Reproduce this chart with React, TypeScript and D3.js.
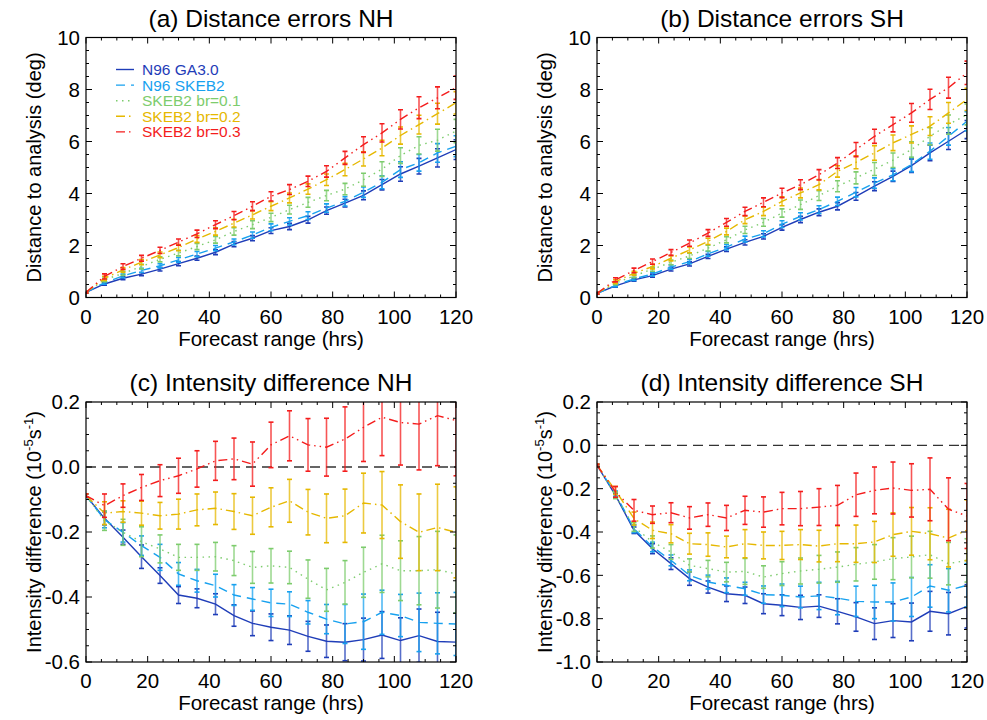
import React from 'react';
import * as d3 from 'd3';

// forecast range (hrs)
const HOURS = [0, 6, 12, 18, 24, 30, 36, 42, 48, 54, 60, 66, 72, 78, 84, 90, 96, 102, 108, 114, 120];
const SERIES = ['N96 GA3.0', 'N96 SKEB2', 'SKEB2 br=0.1', 'SKEB2 br=0.2', 'SKEB2 br=0.3'];
const COLORS = ['#1f3db8', '#17a1ef', '#7dcc6d', '#e6b800', '#f41c1c'];
const DASHES = ['none', '9,6', '1.5,4.5', '9,4,1.5,4', '9,4,1.5,4,1.5,4'];

// (a) distance errors NH
const aGA = [0.2, 0.52, 0.74, 0.9, 1.09, 1.3, 1.51, 1.74, 2.05, 2.28, 2.57, 2.73, 2.99, 3.34, 3.63, 3.93, 4.34, 4.75, 5.05, 5.37, 5.69];
const aSK = [0.2, 0.57, 0.83, 1.04, 1.22, 1.45, 1.67, 1.9, 2.14, 2.4, 2.7, 2.93, 3.15, 3.44, 3.7, 4.05, 4.43, 4.92, 5.18, 5.56, 5.82];
const aB1 = [0.2, 0.68, 0.93, 1.19, 1.47, 1.71, 1.96, 2.22, 2.54, 2.8, 3.08, 3.38, 3.66, 3.92, 4.17, 4.53, 4.94, 5.46, 5.85, 6.05, 6.4];
const aB2 = [0.2, 0.74, 1.06, 1.36, 1.64, 1.92, 2.25, 2.54, 2.86, 3.18, 3.51, 3.83, 4.17, 4.53, 4.92, 5.33, 5.75, 6.23, 6.65, 7.07, 7.49];
const aB3 = [0.2, 0.81, 1.19, 1.51, 1.81, 2.13, 2.45, 2.8, 3.15, 3.51, 3.89, 4.15, 4.47, 4.85, 5.37, 5.88, 6.33, 6.85, 7.3, 7.68, 8.07];
const eaGA = [0.03, 0.05, 0.06, 0.06, 0.07, 0.08, 0.08, 0.09, 0.1, 0.1, 0.11, 0.12, 0.13, 0.14, 0.15, 0.17, 0.2, 0.28, 0.3, 0.35, 0.38];
const eaSK = [0.03, 0.06, 0.07, 0.08, 0.08, 0.09, 0.1, 0.1, 0.11, 0.12, 0.13, 0.14, 0.15, 0.16, 0.18, 0.2, 0.25, 0.3, 0.32, 0.36, 0.4];
const eaB1 = [0.03, 0.07, 0.08, 0.09, 0.1, 0.11, 0.12, 0.13, 0.14, 0.15, 0.16, 0.17, 0.19, 0.2, 0.22, 0.25, 0.28, 0.3, 0.33, 0.42, 0.45];
const eaB2 = [0.03, 0.08, 0.09, 0.1, 0.11, 0.12, 0.13, 0.14, 0.15, 0.16, 0.17, 0.19, 0.2, 0.22, 0.24, 0.27, 0.3, 0.33, 0.36, 0.4, 0.43];
const eaB3 = [0.03, 0.1, 0.11, 0.11, 0.12, 0.12, 0.14, 0.15, 0.16, 0.17, 0.18, 0.19, 0.2, 0.22, 0.25, 0.3, 0.35, 0.37, 0.42, 0.42, 0.45];

// (b) distance errors SH
const bGA = [0.16, 0.45, 0.68, 0.84, 1.09, 1.29, 1.58, 1.86, 2.12, 2.35, 2.7, 3.0, 3.28, 3.51, 3.89, 4.28, 4.66, 5.07, 5.56, 6.01, 6.46];
const bSK = [0.16, 0.47, 0.72, 0.9, 1.17, 1.38, 1.68, 1.94, 2.25, 2.45, 2.82, 3.12, 3.38, 3.7, 4.05, 4.4, 4.72, 5.11, 5.63, 6.2, 6.78];
const bB1 = [0.16, 0.55, 0.83, 1.09, 1.35, 1.6, 1.9, 2.22, 2.6, 2.89, 3.25, 3.57, 3.92, 4.28, 4.6, 4.94, 5.28, 5.69, 6.2, 6.65, 7.04];
const bB2 = [0.16, 0.61, 0.93, 1.19, 1.51, 1.83, 2.16, 2.54, 2.99, 3.31, 3.7, 4.02, 4.34, 4.85, 5.2, 5.56, 5.95, 6.27, 6.59, 7.1, 7.62];
const bB3 = [0.16, 0.68, 1.04, 1.38, 1.73, 2.09, 2.48, 2.89, 3.31, 3.66, 4.02, 4.34, 4.72, 5.17, 5.69, 6.2, 6.65, 7.1, 7.62, 8.07, 8.64];
const ebGA = [0.03, 0.05, 0.05, 0.06, 0.07, 0.08, 0.08, 0.09, 0.1, 0.1, 0.11, 0.12, 0.13, 0.14, 0.15, 0.17, 0.2, 0.26, 0.3, 0.32, 0.35];
const ebSK = [0.03, 0.05, 0.06, 0.07, 0.08, 0.08, 0.09, 0.1, 0.11, 0.12, 0.13, 0.14, 0.15, 0.16, 0.18, 0.2, 0.23, 0.27, 0.31, 0.34, 0.37];
const ebB1 = [0.03, 0.06, 0.07, 0.08, 0.09, 0.1, 0.11, 0.12, 0.14, 0.15, 0.16, 0.18, 0.19, 0.21, 0.23, 0.25, 0.28, 0.3, 0.33, 0.37, 0.4];
const ebB2 = [0.03, 0.07, 0.08, 0.09, 0.1, 0.11, 0.12, 0.13, 0.15, 0.16, 0.17, 0.19, 0.2, 0.22, 0.25, 0.28, 0.3, 0.33, 0.36, 0.4, 0.43];
const ebB3 = [0.03, 0.08, 0.09, 0.1, 0.11, 0.12, 0.13, 0.15, 0.16, 0.17, 0.18, 0.19, 0.2, 0.21, 0.27, 0.27, 0.28, 0.36, 0.39, 0.4, 0.45];

// (c) intensity difference NH
const cGA = [-0.088, -0.158, -0.216, -0.276, -0.334, -0.394, -0.404, -0.422, -0.457, -0.481, -0.493, -0.502, -0.521, -0.536, -0.539, -0.531, -0.517, -0.534, -0.519, -0.537, -0.539];
const cSK = [-0.088, -0.162, -0.201, -0.242, -0.278, -0.329, -0.35, -0.365, -0.394, -0.406, -0.418, -0.422, -0.447, -0.468, -0.483, -0.476, -0.447, -0.457, -0.478, -0.481, -0.483];
const cB1 = [-0.088, -0.165, -0.201, -0.23, -0.252, -0.278, -0.278, -0.276, -0.288, -0.309, -0.304, -0.309, -0.345, -0.378, -0.355, -0.324, -0.298, -0.319, -0.319, -0.316, -0.329];
const cB2 = [-0.088, -0.142, -0.137, -0.142, -0.15, -0.145, -0.132, -0.127, -0.137, -0.15, -0.124, -0.104, -0.139, -0.158, -0.15, -0.111, -0.117, -0.168, -0.201, -0.186, -0.201];
const cB3 = [-0.088, -0.119, -0.088, -0.063, -0.042, -0.027, -0.006, 0.019, 0.025, 0.009, 0.068, 0.096, 0.068, 0.061, 0.086, 0.122, 0.153, 0.137, 0.132, 0.158, 0.143];
const ecGA = [0.005, 0.02, 0.022, 0.036, 0.024, 0.026, 0.029, 0.032, 0.033, 0.038, 0.041, 0.044, 0.046, 0.05, 0.057, 0.066, 0.072, 0.07, 0.082, 0.09, 0.09];
const ecSK = [0.005, 0.025, 0.03, 0.03, 0.04, 0.035, 0.035, 0.035, 0.032, 0.035, 0.042, 0.038, 0.036, 0.045, 0.06, 0.085, 0.068, 0.065, 0.09, 0.094, 0.097];
const ecB1 = [0.005, 0.03, 0.04, 0.046, 0.043, 0.04, 0.04, 0.044, 0.046, 0.049, 0.053, 0.05, 0.059, 0.066, 0.067, 0.077, 0.088, 0.092, 0.105, 0.118, 0.12];
const ecB2 = [0.005, 0.035, 0.033, 0.037, 0.041, 0.046, 0.049, 0.05, 0.055, 0.057, 0.06, 0.066, 0.07, 0.075, 0.082, 0.092, 0.103, 0.113, 0.118, 0.133, 0.14];
const ecB3 = [0.005, 0.036, 0.036, 0.04, 0.049, 0.054, 0.056, 0.06, 0.064, 0.068, 0.07, 0.077, 0.081, 0.089, 0.099, 0.105, 0.118, 0.131, 0.141, 0.154, 0.17];

// (d) intensity difference SH
const dGA = [-0.092, -0.231, -0.392, -0.477, -0.546, -0.615, -0.654, -0.685, -0.692, -0.731, -0.738, -0.748, -0.742, -0.766, -0.792, -0.823, -0.809, -0.815, -0.766, -0.777, -0.743];
const dSK = [-0.092, -0.223, -0.385, -0.469, -0.531, -0.6, -0.631, -0.646, -0.662, -0.689, -0.692, -0.7, -0.695, -0.705, -0.72, -0.723, -0.723, -0.7, -0.649, -0.669, -0.646];
const dB1 = [-0.092, -0.231, -0.377, -0.446, -0.492, -0.554, -0.569, -0.585, -0.582, -0.608, -0.592, -0.58, -0.572, -0.562, -0.549, -0.538, -0.523, -0.515, -0.505, -0.546, -0.531];
const dB2 = [-0.092, -0.208, -0.338, -0.392, -0.408, -0.454, -0.458, -0.469, -0.454, -0.462, -0.462, -0.458, -0.465, -0.454, -0.454, -0.446, -0.412, -0.397, -0.408, -0.428, -0.392];
const dB3 = [-0.092, -0.215, -0.3, -0.32, -0.311, -0.335, -0.32, -0.335, -0.3, -0.308, -0.292, -0.292, -0.285, -0.277, -0.228, -0.208, -0.197, -0.208, -0.203, -0.295, -0.326];
const edGA = [0.005, 0.01, 0.015, 0.023, 0.027, 0.031, 0.028, 0.036, 0.038, 0.046, 0.048, 0.056, 0.052, 0.058, 0.066, 0.073, 0.078, 0.087, 0.092, 0.098, 0.1];
const edSK = [0.005, 0.012, 0.018, 0.022, 0.025, 0.025, 0.032, 0.034, 0.03, 0.04, 0.052, 0.05, 0.063, 0.077, 0.07, 0.077, 0.088, 0.09, 0.098, 0.1, 0.1];
const edB1 = [0.005, 0.015, 0.02, 0.028, 0.034, 0.03, 0.038, 0.045, 0.06, 0.052, 0.055, 0.06, 0.064, 0.07, 0.077, 0.08, 0.097, 0.096, 0.108, 0.098, 0.1];
const edB2 = [0.005, 0.018, 0.03, 0.038, 0.042, 0.048, 0.054, 0.05, 0.065, 0.062, 0.065, 0.069, 0.073, 0.083, 0.086, 0.095, 0.1, 0.11, 0.12, 0.133, 0.14];
const edB3 = [0.005, 0.025, 0.05, 0.04, 0.046, 0.052, 0.054, 0.058, 0.065, 0.07, 0.075, 0.079, 0.085, 0.092, 0.1, 0.108, 0.12, 0.123, 0.145, 0.145, 0.15];

// tick labels
const X_TICKS = [0, 20, 40, 60, 80, 100, 120];
const DIST_TICKS = [0, 2, 4, 6, 8, 10];
const DIST_LABELS = ['0', '2', '4', '6', '8', '10'];
const NH_INT_TICKS = [-0.6, -0.4, -0.2, 0.0, 0.2];
const NH_INT_LABELS = ['-0.6', '-0.4', '-0.2', '0.0', '0.2'];
const SH_INT_TICKS = [-1.0, -0.8, -0.6, -0.4, -0.2, 0.0, 0.2];
const SH_INT_LABELS = ['-1.0', '-0.8', '-0.6', '-0.4', '-0.2', '0.0', '0.2'];

const FONT = '"Liberation Sans", Arial, Helvetica, sans-serif';
const PW = 370;
const PH = 260;

const panels = [
  { id: 'a', title: '(a) Distance errors NH', left: 86, top: 37.5, domain: [0, 10], ticks: DIST_TICKS, labels: DIST_LABELS, minor: 0.5,
    values: [aGA, aSK, aB1, aB2, aB3], errors: [eaGA, eaSK, eaB1, eaB2, eaB3], zero: false, legend: true, ylab: 'dist' },
  { id: 'b', title: '(b) Distance errors SH', left: 597, top: 37.5, domain: [0, 10], ticks: DIST_TICKS, labels: DIST_LABELS, minor: 0.5,
    values: [bGA, bSK, bB1, bB2, bB3], errors: [ebGA, ebSK, ebB1, ebB2, ebB3], zero: false, legend: false, ylab: 'dist' },
  { id: 'c', title: '(c) Intensity difference NH', left: 86, top: 402, domain: [-0.6, 0.2], ticks: NH_INT_TICKS, labels: NH_INT_LABELS, minor: 0.05,
    values: [cGA, cSK, cB1, cB2, cB3], errors: [ecGA, ecSK, ecB1, ecB2, ecB3], zero: true, legend: false, ylab: 'int' },
  { id: 'd', title: '(d) Intensity difference SH', left: 597, top: 402, domain: [-1.0, 0.2], ticks: SH_INT_TICKS, labels: SH_INT_LABELS, minor: 0.05,
    values: [dGA, dSK, dB1, dB2, dB3], errors: [edGA, edSK, edB1, edB2, edB3], zero: true, legend: false, ylab: 'int' },
];

function Panel({ p }: { p: any }) {
  const x = d3.scaleLinear().domain([0, 120]).range([p.left, p.left + PW]);
  const y = d3.scaleLinear().domain(p.domain).range([p.top + PH, p.top]);
  const bottom = p.top + PH;
  const right = p.left + PW;
  const line = d3.line<number>().x((_, i) => x(HOURS[i])).y((d) => y(d));
  const xMinor = d3.range(0, 120.001, 5);
  const yMinor = d3.range(p.domain[0], p.domain[1] + 1e-6, p.minor);
  const clipId = 'clip-' + p.id;
  const cx = p.left + PW / 2;
  const cy = p.top + PH / 2;

  return (
    <g>
      <defs>
        <clipPath id={clipId}>
          <rect x={p.left} y={p.top} width={PW} height={PH} />
        </clipPath>
      </defs>
      <text x={cx} y={p.top - 11} textAnchor="middle" fontSize={24.5} fontFamily={FONT}>{p.title}</text>

      <g clipPath={`url(#${clipId})`}>
        {p.zero && (
          <line x1={p.left} x2={right} y1={y(0)} y2={y(0)} stroke="#333" strokeWidth={1.4} strokeDasharray="10,6" />
        )}
        {p.values.map((vals: number[], s: number) => (
          <g key={s}>
            {vals.map((v, i) => {
              const e = p.errors[s][i];
              const xx = x(HOURS[i]);
              return (
                <g key={i} stroke={COLORS[s]} strokeWidth={1.6}>
                  <line x1={xx} x2={xx} y1={y(v - e)} y2={y(v + e)} strokeOpacity={0.75} />
                  <line x1={xx - 2.5} x2={xx + 2.5} y1={y(v - e)} y2={y(v - e)} />
                  <line x1={xx - 2.5} x2={xx + 2.5} y1={y(v + e)} y2={y(v + e)} />
                </g>
              );
            })}
            <path d={line(vals) || ''} fill="none" stroke={COLORS[s]} strokeWidth={1.4}
              strokeDasharray={DASHES[s]} />
          </g>
        ))}
      </g>

      {/* frame and ticks */}
      <rect x={p.left} y={p.top} width={PW} height={PH} fill="none" stroke="#000" strokeWidth={1.2} />
      {xMinor.map((t) => {
        const major = t % 20 === 0;
        const len = major ? 6 : 3;
        return (
          <g key={'x' + t} stroke="#000" strokeWidth={1}>
            <line x1={x(t)} x2={x(t)} y1={bottom} y2={bottom - len} />
            <line x1={x(t)} x2={x(t)} y1={p.top} y2={p.top + len} />
          </g>
        );
      })}
      {yMinor.map((t: number, k: number) => {
        const major = p.ticks.some((m: number) => Math.abs(m - t) < 1e-6);
        const len = major ? 6 : 3;
        return (
          <g key={'y' + k} stroke="#000" strokeWidth={1}>
            <line x1={p.left} x2={p.left + len} y1={y(t)} y2={y(t)} />
            <line x1={right} x2={right - len} y1={y(t)} y2={y(t)} />
          </g>
        );
      })}
      {X_TICKS.map((t) => (
        <text key={'xl' + t} x={x(t)} y={bottom + 26} textAnchor="middle" fontSize={20.5} fontFamily={FONT}>{t}</text>
      ))}
      {p.ticks.map((t: number, k: number) => (
        <text key={'yl' + k} x={p.left - 6} y={y(t)} dy="0.35em" textAnchor="end" fontSize={20.5} fontFamily={FONT}>{p.labels[k]}</text>
      ))}
      <text x={cx} y={bottom + 48} textAnchor="middle" fontSize={20.5} fontFamily={FONT}>Forecast range (hrs)</text>
      <g transform={`translate(${p.left - 52},${cy}) rotate(-90)`}>
        {p.ylab === 'dist' ? (
          <text x={0} y={0} dy="0.35em" textAnchor="middle" fontSize={20} fontFamily={FONT}>Distance to analysis (deg)</text>
        ) : (
          <text x={0} y={0} dy="0.35em" textAnchor="middle" fontSize={20} fontFamily={FONT}>
            Intensity difference (10<tspan dy={-8} fontSize={13}>-5</tspan><tspan dy={8}>s</tspan><tspan dy={-8} fontSize={13}>-1</tspan><tspan dy={8}>)</tspan>
          </text>
        )}
      </g>

      {p.legend && SERIES.map((name, s) => {
        const ly = p.top + 32 + s * 15.6;
        return (
          <g key={'lg' + s}>
            <line x1={p.left + 30} x2={p.left + 48} y1={ly} y2={ly} stroke={COLORS[s]} strokeWidth={1.4} strokeDasharray={DASHES[s]} />
            <text x={p.left + 56} y={ly} dy="0.35em" fontSize={15.5} fontFamily={FONT} fill={COLORS[s]}>{name}</text>
          </g>
        );
      })}
    </g>
  );
}

export default function App() {
  return (
    <svg width={987} height={720} style={{ position: 'absolute', left: 0, top: 0, background: '#fff' }}>
      <rect width={987} height={720} fill="#fff" />
      {panels.map((p) => (
        <Panel key={p.id} p={p} />
      ))}
    </svg>
  );
}
